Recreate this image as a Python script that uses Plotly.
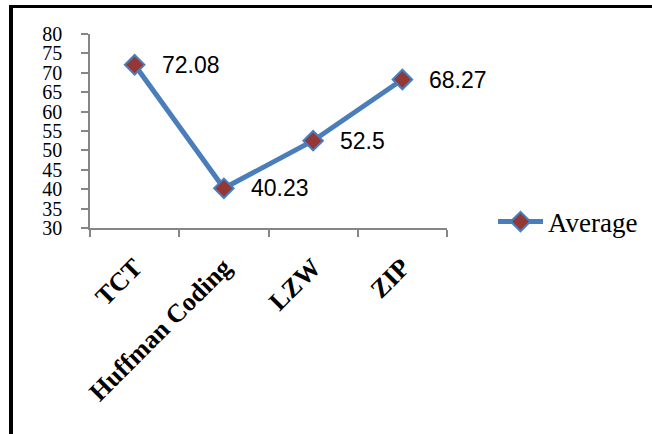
import plotly.graph_objects as go

categories = ["TCT", "Huffman Coding", "LZW", "ZIP"]
average = [72.08, 40.23, 52.5, 68.27]
label_texts = ["72.08", "40.23", "52.5", "68.27"]
y_ticks = [30, 35, 40, 45, 50, 55, 60, 65, 70, 75, 80]

W, H = 652, 434
# plot area in page pixels: x 90..447, y 34..228
L, T = 90, 34
R = W - 447
B = H - 228
pw, ph = W - L - R, H - T - B

def px_x(x):
    return (x - L) / pw

def px_y(y):
    return (H - B - y) / ph

fig = go.Figure()
fig.add_trace(go.Scatter(
    x=categories, y=average, mode="lines+markers", name="Average",
    line=dict(color="#4a7ebb", width=5),
    marker=dict(symbol="diamond", size=15, color="#953735",
                line=dict(color="#4a7ebb", width=2)),
))

for c, v, t in zip(categories, average, label_texts):
    fig.add_annotation(x=c, y=v, text=t, showarrow=False, xanchor="left",
                       yanchor="middle", xshift=25,
                       font=dict(family="Liberation Sans", size=23, color="#000"))

shapes = [
    dict(type="line", xref="paper", yref="paper", x0=px_x(11), x1=px_x(11),
         y0=px_y(5), y1=px_y(440), line=dict(color="#000", width=4)),
    dict(type="rect", xref="paper", yref="paper", x0=px_x(9), x1=px_x(652),
         y0=px_y(8), y1=px_y(5), line=dict(width=0), fillcolor="#000"),
]

fig.update_layout(
    width=W, height=H,
    margin=dict(l=L, r=R, t=T, b=B, pad=0, autoexpand=False),
    paper_bgcolor="white", plot_bgcolor="white",
    shapes=shapes,
    showlegend=True,
    legend=dict(x=px_x(493), y=px_y(222), xanchor="left", yanchor="middle",
                itemwidth=45,
                font=dict(family="Liberation Serif", size=27, color="#000"),
                bgcolor="rgba(0,0,0,0)"),
    xaxis=dict(
        type="category", range=[-0.5, 3.5], tickson="boundaries",
        automargin=False,
        showline=True, linecolor="#868686", linewidth=1.5,
        ticks="outside", ticklen=7, tickcolor="#868686", tickwidth=1.5,
        showgrid=False, zeroline=False, tickangle=-45,
        ticklabelstandoff=12,
        tickfont=dict(family="Liberation Serif", size=26, color="#000"),
        tickprefix="<b>", ticksuffix="</b>",
    ),
    yaxis=dict(
        range=[30, 80], tickvals=y_ticks, ticktext=[str(v) for v in y_ticks],
        automargin=False,
        showline=True, linecolor="#868686", linewidth=1.5,
        ticks="outside", ticklen=7, tickcolor="#868686", tickwidth=1.5,
        showgrid=False, zeroline=False,
        ticklabelstandoff=15,
        tickfont=dict(family="Liberation Serif", size=20, color="#000"),
    ),
)

fig.write_html("out.html",
               config={"displayModeBar": False},
               post_script="document.body.style.margin='0';document.body.style.overflow='hidden';")
